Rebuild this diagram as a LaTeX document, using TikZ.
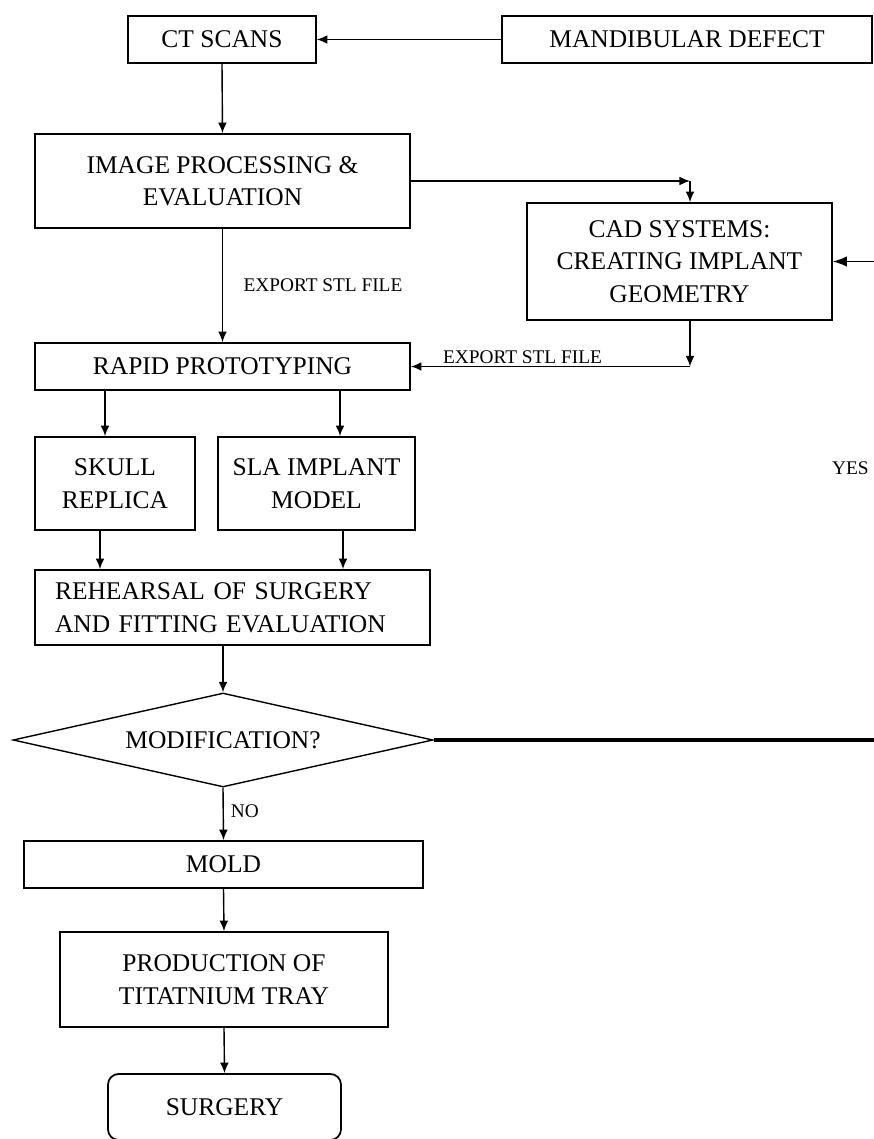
\documentclass[tikz,border=0pt]{standalone}
\usepackage{fontspec}
\setmainfont{Liberation Serif}
\usetikzlibrary{arrows.meta,shapes.geometric}
\tikzset{> = {Latex[length=6pt,width=5pt]}, box/.style={draw, line width=1pt, align=center, inner sep=2pt, font=\flowfont}, conn/.style={->, line width=0.8pt}}
\newcommand{\flowfont}{\fontsize{14.5}{18.5}\selectfont}
\newcommand{\lblfont}{\fontsize{11}{13}\selectfont}

\begin{document}
\begin{tikzpicture}[x=0.02cm, y=-0.02cm]
		\useasboundingbox (0,0) rectangle (873,1139);
		\node[box, minimum width=3.76cm, minimum height=0.94cm] (ct) at (222,39.5) {CT SCANS};
		\node[box, minimum width=7.4cm, minimum height=0.94cm] (md) at (687,39.5) {MANDIBULAR DEFECT};
		\node[box, minimum width=7.5cm, minimum height=1.88cm] (ip) at (222.5,181) {IMAGE PROCESSING \&\\EVALUATION};
		\node[box, minimum width=6.1cm, minimum height=2.34cm] (cad) at (679.5,261.5) {CAD SYSTEMS:\\CREATING IMPLANT\\GEOMETRY};
		\node[box, minimum width=7.5cm, minimum height=0.94cm] (rp) at (222.5,366.5) {RAPID PROTOTYPING};
		\node[box, minimum width=3.2cm, minimum height=1.86cm] (skull) at (115,483.5) {SKULL\\REPLICA};
		\node[box, minimum width=3.94cm, minimum height=1.86cm] (sla) at (316.5,483.5) {SLA IMPLANT\\MODEL};
		\node[box, align=left, text width=7.1cm, inner xsep=0.4cm, minimum height=1.5cm] (reh) at (232.5,607.5) {REHEARSAL OF SURGERY\\AND FITTING EVALUATION};
		\node[box, diamond, aspect=4.47, inner sep=0pt, line width=0.8pt, minimum width=8.4cm, minimum height=1.88cm] (mod) at (223,740) {MODIFICATION?};
		\node[box, minimum width=7.98cm, minimum height=0.94cm] (mold) at (223.5,864.5) {MOLD};
		\node[box, minimum width=6.56cm, minimum height=1.9cm] (prod) at (224,979.5) {PRODUCTION OF\\TITATNIUM TRAY};
		\node[box, rounded corners=6pt, minimum width=4.66cm, minimum height=1.32cm] (surg) at (224.5,1107) {SURGERY};
		\node[font=\lblfont, anchor=east, inner sep=0pt] (yes) at (869,468) {YES};
		% side points of the connectors
		\coordinate (cadin) at ([xshift=0.21cm]cad.north);
		\coordinate (cadout) at ([xshift=0.21cm]cad.south);
		\coordinate (skin) at ([xshift=-0.2cm]skull.north);
		\coordinate (skout) at ([xshift=-0.3cm]skull.south);
		\coordinate (slin) at ([xshift=0.47cm]sla.north);
		\coordinate (slout) at ([xshift=0.53cm]sla.south);
		\coordinate (back) at (880,740);
		\draw[conn] (md.west) -- (ct.east);
		\draw[conn] (ct.south) -- (ip.north);
		\draw[conn] (ip.east) -- (ip.east -| cadin);
		\draw[conn] (ip.east -| cadin) -- (cadin);
		\draw[conn] (cadout) -- (cadout |- rp.east);
		\draw[conn] (cadout |- rp.east) -- node[above, pos=0.6, inner sep=1pt, font=\lblfont]{EXPORT STL FILE} (rp.east);
		\draw[conn] (ip.south) -- node[right=0.29cm, font=\lblfont]{EXPORT STL FILE} (rp.north);
		\draw[conn] (skin |- rp.south) -- (skin);
		\draw[conn] (slin |- rp.south) -- (slin);
		\draw[conn] (skout) -- (skout |- reh.north);
		\draw[conn] (slout) -- (slout |- reh.north);
		\draw[conn] (reh.south -| mod.north) -- (mod.north);
		\draw[conn] (mod.south) -- node[right, pos=0.45, inner sep=4pt, font=\lblfont]{NO} (mold.north);
		\draw[conn] (mold.south) -- (prod.north);
		\draw[conn] (prod.south) -- (surg.north);
		\draw[line width=2pt] (mod.east) -- (back);
		\draw[conn, line width=0.8pt, -{Latex[length=8pt,width=6pt]}] (back) |- (cad.east);
		\end{tikzpicture}
\end{document}
